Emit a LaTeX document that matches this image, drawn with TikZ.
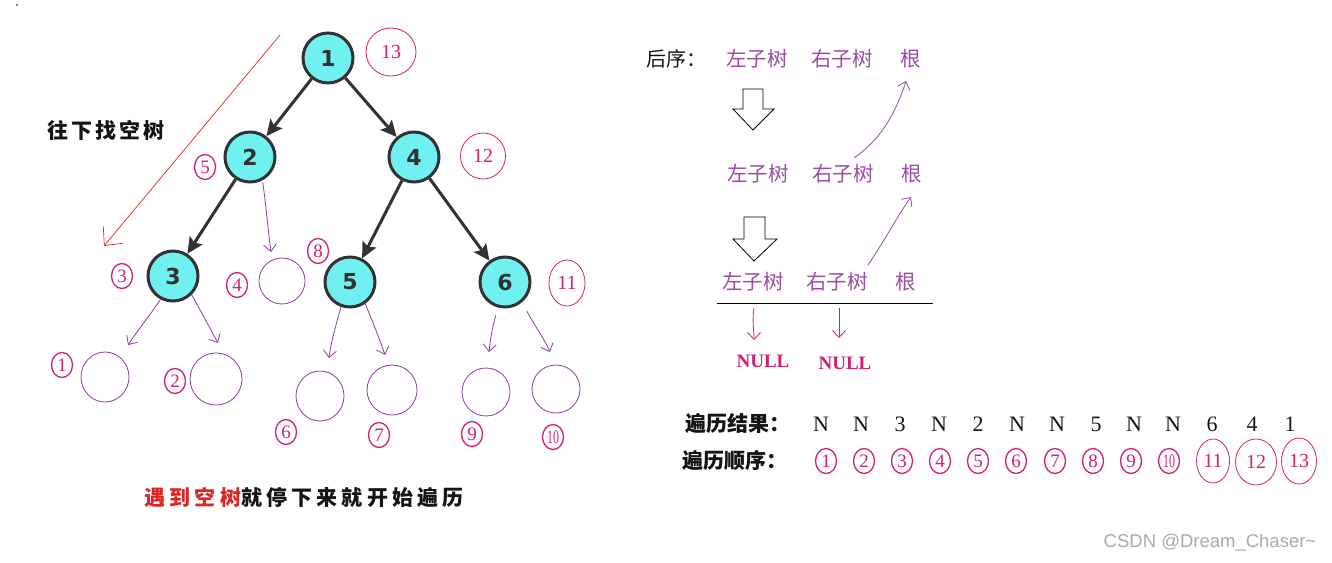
\documentclass[tikz,border=0pt]{standalone}
\usepackage{fontspec}
\setmainfont{Liberation Serif}
\newfontfamily\cjk{Noto Sans CJK SC}
\newfontfamily\cjksp{Noto Sans CJK SC}[LetterSpace=15]
\newfontfamily\cjkspw{Noto Sans CJK SC}[LetterSpace=20]
\newfontfamily\nodefont{DejaVu Sans}
\newfontfamily\wmfont{Liberation Sans}
\usetikzlibrary{arrows.meta,shapes.geometric}
\definecolor{mag}{RGB}{212,30,110}
\definecolor{purp}{RGB}{155,75,165}
\definecolor{handc}{RGB}{140,60,160}
\definecolor{cyanf}{RGB}{112,240,240}
\definecolor{dark}{RGB}{50,50,50}
\definecolor{redt}{RGB}{225,35,35}
\definecolor{blk}{RGB}{20,20,20}
\definecolor{wmgray}{RGB}{170,170,170}
\newcommand{\tendig}{\scalebox{0.62}[1]{10}}
\begin{document}
\begin{tikzpicture}[x=1pt,y=-1pt,
  tnode/.style={circle,draw=dark,line width=3pt,fill=cyanf,minimum size=50pt,inner sep=0pt,
    font=\nodefont\bfseries\fontsize{22}{22}\selectfont,text=dark},
  emptyc/.style={ellipse,draw=handc,line width=0.8pt,minimum width=48pt,minimum height=50pt,inner sep=0pt},
  cnum/.style={ellipse,draw=mag,line width=1.3pt,text=mag,minimum width=21pt,minimum height=25pt,
    font=\fontsize{19}{19}\selectfont,inner sep=0pt},
  ordc/.style={ellipse,draw=mag,line width=0.8pt,text=mag,font=\fontsize{20}{20}\selectfont,inner sep=0pt},
  tedge/.style={draw=dark,line width=3pt,-{Stealth[length=16pt,width=15pt,inset=3pt]}},
  handarrow/.style={draw=handc,line width=0.8pt,-{Straight Barb[length=7pt,width=13pt]}},
  lbl/.style={text=purp,font=\cjk\fontsize{20.5}{20.5}\selectfont,inner sep=0pt},
  dtext/.style={text=blk,font=\cjk\bfseries\fontsize{21}{21}\selectfont,inner sep=0pt},
  res/.style={text=blk,font=\fontsize{22}{22}\selectfont,inner sep=0pt},
  hollow/.style={draw=black,line width=0.8pt,fill=white}
]
\useasboundingbox (0,0) rectangle (1332,562);
\fill[black] (17,5) circle (0.8pt);

% tree nodes
\node[tnode] (n1) at (328,58) {1};
\node[tnode] (n2) at (250,157) {2};
\node[tnode] (n4) at (414,157) {4};
\node[tnode] (n3) at (173,276) {3};
\node[tnode] (n5) at (350,282) {5};
\node[tnode] (n6) at (505,282) {6};
\draw[tedge] (n1) -- (n2);
\draw[tedge] (n1) -- (n4);
\draw[tedge] (n2) -- (n3);
\draw[tedge] (n4) -- (n5);
\draw[tedge] (n4) -- (n6);

% order labels of nodes
\node[ordc,minimum width=50pt,minimum height=48pt] (o13) at (391,52) {13};
\node[ordc,minimum width=45pt,minimum height=46pt] (o12) at (483,156) {12};
\node[ordc,minimum width=36pt,minimum height=46pt] (o11) at (567,283) {11};
\node[cnum] (c5) at (205,167) {5};
\node[cnum] (c3) at (122,276) {3};
\node[cnum] (c4) at (237,285) {4};
\node[cnum] (c8) at (318,251) {8};
\node[cnum] (c1) at (62,365) {1};
\node[cnum] (c2) at (175,381) {2};
\node[cnum] (c6) at (286,432) {6};
\node[cnum] (c7) at (379,435) {7};
\node[cnum] (c9) at (472,434) {9};
\node[cnum] (c10) at (553,437) {\tendig};

% empty trees
\node[emptyc] (e1) at (105,377) {};
\node[emptyc,minimum width=52pt,minimum height=52pt] (e2) at (216,379) {};
\node[emptyc,minimum width=46pt,minimum height=46pt] (e4) at (282,281) {};
\node[emptyc] (e6) at (320,396) {};
\node[emptyc,minimum width=50pt] (e7) at (392,390) {};
\node[emptyc,minimum width=48pt,minimum height=48pt] (e9) at (486,392) {};
\node[emptyc,minimum width=48pt,minimum height=48pt] (e10) at (556,389) {};

% hand-drawn arrows
\coordinate (a2) at (271,252);
\coordinate (a31) at (128,345);
\coordinate (a32) at (218,343);
\coordinate (a51) at (329,358);
\coordinate (a52) at (385,355);
\coordinate (a61) at (489,352);
\coordinate (a62) at (550,352);
\draw[handarrow,shorten <=2pt] (n2.-62) .. controls (266,205) and (268,230) .. (a2);
\draw[handarrow] (n3.-118) .. controls (150,315) and (138,330) .. (a31);
\draw[handarrow] (n3.-45) .. controls (200,310) and (210,328) .. (a32);
\draw[handarrow] (n5.-110) .. controls (336,325) and (331,342) .. (a51);
\draw[handarrow] (n5.-55) .. controls (372,320) and (380,340) .. (a52);
\draw[handarrow,shorten <=8pt] (n6.-105) .. controls (492,328) and (490,342) .. (a61);
\draw[handarrow,shorten <=10pt] (n6.-50) .. controls (536,328) and (545,340) .. (a62);

% red arrow
\coordinate (r0) at (280,35);
\coordinate (r1) at (104,246);
\draw[redt,line width=0.7pt,-{Straight Barb[length=14pt,width=26pt]}] (r0) -- (r1);

% texts left
\node[dtext,font=\cjksp\bfseries\fontsize{21}{21}\selectfont] (t1) at (106,130) {往下找空树};
\node[dtext,font=\cjkspw\bfseries\fontsize{21}{21}\selectfont] (t2) at (304,497) {\textcolor{redt}{遇到空树}就停下来就开始遍历};

% right side
\node[text=blk,font=\cjk\fontsize{20}{20}\selectfont,inner sep=0pt] (hx) at (676,59) {后序：};
\node[lbl] (l1) at (757,59) {左子树};
\node[lbl] (r1t) at (842,59) {右子树};
\node[lbl] (g1) at (911,59) {根};
\node[lbl] (l2) at (758,174) {左子树};
\node[lbl] (r2t) at (843,174) {右子树};
\node[lbl] (g2) at (912,174) {根};
\node[lbl] (l3) at (753,282) {左子树};
\node[lbl] (r3t) at (837,282) {右子树};
\node[lbl] (g3) at (906,282) {根};

% hollow arrows
\draw[hollow] (743,89) -- (763,89) -- (763,109) -- (774,109) -- (753,130) -- (733,109) -- (743,109) -- cycle;
\draw[hollow] (744,217) -- (765,217) -- (765,239) -- (777,239) -- (754,261) -- (733,239) -- (744,239) -- cycle;

% curved arrows
\coordinate (s1) at (854,158);
\coordinate (f1) at (906,81);
\coordinate (s2) at (868,265);
\coordinate (f2) at (911,197);
\draw[handarrow,draw=purp] (s1) .. controls (880,140) and (895,115) .. (f1);
\draw[handarrow,draw=purp] (s2) .. controls (885,240) and (898,215) .. (f2);

% line and NULL
\coordinate (la) at (717,303);
\coordinate (lb) at (933,303);
\draw[black,line width=0.8pt] (la) -- (lb);
\node[text=mag,font=\bfseries\fontsize{19}{19}\selectfont,inner sep=0pt] (null1) at (763,361) {NULL};
\node[text=mag,font=\bfseries\fontsize{19}{19}\selectfont,inner sep=0pt] (null2) at (845,363) {NULL};
\coordinate (na1) at (754,308);
\coordinate (nb1) at (754,340);
\coordinate (na2) at (839,308);
\coordinate (nb2) at (839,338);
\draw[handarrow,draw=mag] (na1) .. controls (752,320) and (754,330) .. (nb1);
\draw[handarrow,draw=mag] (na2) -- (nb2);

% bottom rows
\node[dtext] (rl) at (738,424) {遍历结果：};
\node[dtext] (ol) at (735,461) {遍历顺序：};
\foreach \x/\t [count=\i] in {821/N,861/N,900/3,939/N,978/2,1017/N,1057/N,1096/5,1134/N,1173/N,1212/6,1252/4,1290/1}
  \node[res] (res\i) at (\x,424) {\t};
\foreach \x/\t [count=\i] in {826/1,864/2,902/3,940/4,978/5,1016/6,1055/7,1093/8,1131/9}
  \node[cnum] (ord\i) at (\x,461) {\t};
\node[cnum] (ord10) at (1169,461) {\tendig};
\node[ordc,minimum width=33pt,minimum height=44pt] (ord11) at (1213,461) {11};
\node[ordc,minimum width=41pt,minimum height=46pt] (ord12) at (1256,462) {12};
\node[ordc,minimum width=35pt,minimum height=46pt] (ord13) at (1299,461) {13};

\node[text=wmgray,font=\wmfont\fontsize{18.5}{18.5}\selectfont,inner sep=0pt] (wm) at (1210,543) {CSDN @Dream\_Chaser\textasciitilde};
\end{tikzpicture}
\end{document}
